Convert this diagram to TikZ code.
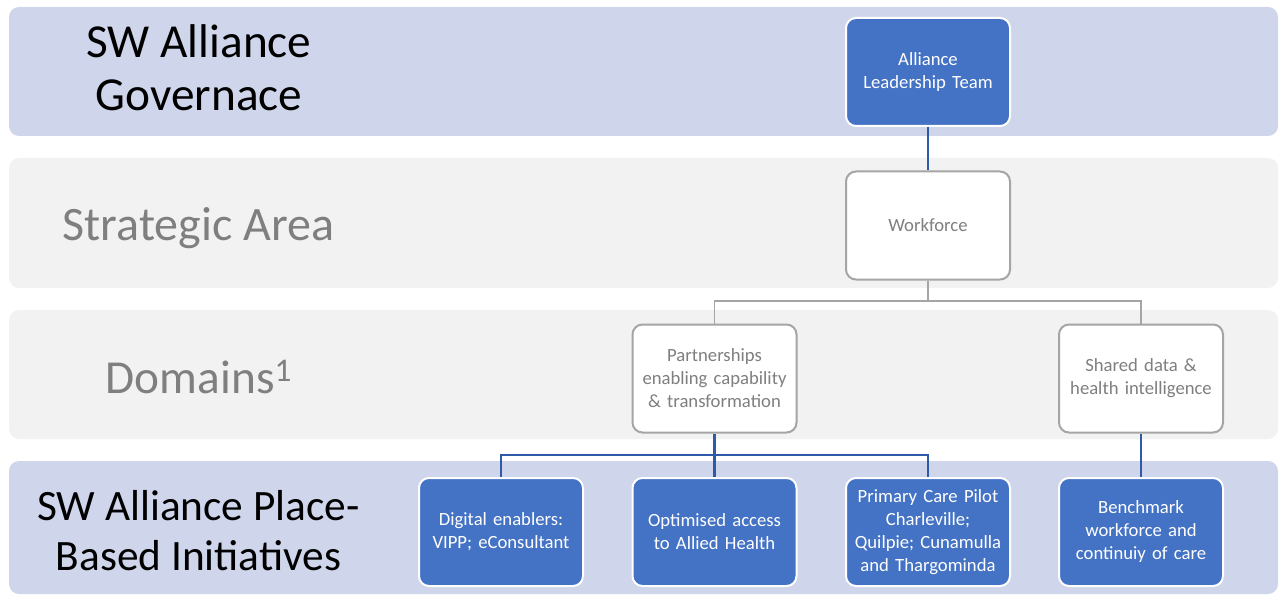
\documentclass[tikz,border=0pt]{standalone}
\usepackage{fontspec}
\setmainfont{Carlito}
\definecolor{bandblue}{HTML}{CFD5EA}
\definecolor{bandgray}{HTML}{F2F2F2}
\definecolor{nodeblue}{HTML}{4472C4}
\definecolor{txtgray}{HTML}{7F7F7F}
\definecolor{bordgray}{HTML}{A5A5A5}
\definecolor{linkblue}{HTML}{2F5AA8}
\begin{document}
\begin{tikzpicture}[x=0.75pt,y=-0.75pt,
  band/.style={rounded corners=7.5pt},
  box/.style={rounded corners=7.5pt, minimum width=123pt, minimum height=81pt,
    align=center, font=\fontsize{14}{17.25}\selectfont, line width=1.5pt,
    inner sep=2pt, text width=118pt},
  bluebox/.style={box, fill=nodeblue, draw=white, text=white},
  graybox/.style={box, fill=white, draw=bordgray, text=txtgray},
  biglabel/.style={align=center, font=\fontsize{35.5}{39.5}\selectfont},
  graylink/.style={draw=bordgray, line width=1.2pt},
  bluelink/.style={draw=linkblue, line width=1.8pt}]
\useasboundingbox (0,0) rectangle (1280,595);
% bands
\fill[band, bandblue] (9,7) rectangle (1278,136);
\fill[band, bandgray] (9,158) rectangle (1278,288);
\fill[band, bandgray] (9,310) rectangle (1278,439);
\fill[band, bandblue] (9,461) rectangle (1278,594);
% left labels
\node[biglabel, text=black] (gov) at (199,68) {SW Alliance\\Governace};
\node[biglabel, text=txtgray, font=\fontsize{36}{40}\selectfont] (strat) at (198.5,228) {Strategic Area};
\node[biglabel, text=txtgray] (dom) at (199,377) {Domains\textsuperscript{1}};
\node[biglabel, text=black, font=\fontsize{32.5}{37.5}\selectfont] (pbi) at (198.5,531) {SW Alliance Place-\\Based Initiatives};
% boxes
\node[bluebox] (alt) at (928,72) {Alliance\\Leadership Team};
\node[graybox] (wf) at (928,225.5) {Workforce};
\node[graybox] (part) at (714.5,378.5) {Partnerships\\enabling capability\\\& transformation};
\node[graybox] (shared) at (1141,378.5) {Shared data \&\\health intelligence};
\node[bluebox] (dig) at (501,532) {Digital enablers:\\VIPP; eConsultant};
\node[bluebox] (opt) at (714.5,532) {Optimised access\\to Allied Health};
\node[bluebox] (prim) at (928,532) {Primary Care Pilot\\Charleville;\\Quilpie; Cunamulla\\and Thargominda};
\node[bluebox] (bench) at (1141,532) {Benchmark\\workforce and\\continuiy of care};
% connectors
\coordinate (j1) at (928,301);
\coordinate (j2) at (714.5,455);
\draw[bluelink] (alt.south) -- (wf.north);
\draw[graylink] (wf.south) -- (j1) -| (part.north);
\draw[graylink] (j1) -| (shared.north);
\draw[bluelink] (part.south) -- (opt.north);
\draw[bluelink] (j2) -| (dig.north);
\draw[bluelink] (j2) -| (prim.north);
\draw[bluelink] (shared.south) -- (bench.north);
\end{tikzpicture}
\end{document}
